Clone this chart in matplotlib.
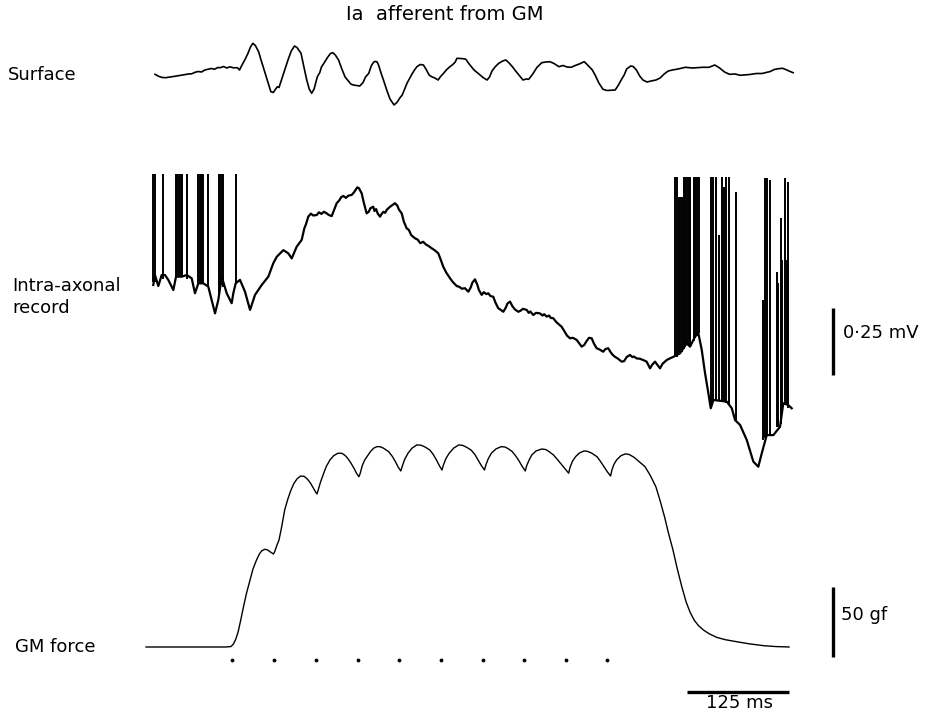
import numpy as np
import matplotlib.pyplot as plt

# ---- data (time in ms from start of sweep) ----
# surface EMG, arbitrary units
surf_t = [11, 16, 20, 24, 30, 36, 45, 52, 56, 60, 64, 68, 72, 76, 80, 84, 88, 91, 95, 99,
          103, 107, 112, 114.6, 117, 121, 125, 128, 131, 134, 138, 141, 146, 150, 153, 156,
          158, 161, 163, 166, 170, 174, 178, 182, 185, 188, 190, 193, 197, 200, 203, 206,
          210, 213, 215, 218, 222, 226, 229, 232, 236, 240, 244, 247, 251, 254, 258, 262,
          266, 269, 273, 276, 278, 280, 283, 285, 288, 291, 295, 299, 304, 308, 311, 314,
          317, 320, 322, 326, 329, 332, 336, 340, 343, 347, 350, 354, 358, 361, 365, 368,
          372, 376, 379, 381, 385, 389, 392, 396, 402, 408, 413, 418, 421, 424, 428, 432,
          437, 441, 445, 449, 453, 457, 462, 466, 469, 474, 479, 485, 490, 495, 500, 506,
          511, 516, 521, 526, 531, 537, 540, 544, 547, 551, 555, 560, 565, 570, 575, 579,
          583, 586, 589, 594, 597, 601, 605, 609, 614, 619, 625, 630, 635, 640, 645, 652,
          661, 670, 682, 690, 697, 703, 709, 715, 722, 728, 733, 740, 748, 755, 759, 765,
          770, 775, 780, 784, 788, 793]
surf_v = [0.7, -1.5, -2.5, -2.7, -2, -1.2, 0, 1, 1.2, 2.7, 3.5, 3, 5, 5.7, 6.5, 5.8, 7.5, 7.3,
          8.5, 7, 8.2, 7.2, 7.3, 5, 9, 15, 21.7, 28, 31.7, 29.5, 23.3, 15, 1.7, -9, -16.7,
          -17.5, -15, -11.7, -12.5, -5, 5, 15, 24, 29, 27.5, 24, 21.7, 10, -5, -14, -18.3,
          -14, -1.7, 2.5, 8, 11.7, 17, 21.5, 22.3, 20, 15, 6, -2, -5, -9, -10, -10.5, -11,
          -7.5, -2, 1.7, 9, 11.7, 13.5, 13.3, 10, 2, -5, -15, -24, -30, -27, -23, -20,
          -14, -8, -5, 1, 5, 8.3, 10.5, 10, 6, 0, -1.7, -3, -5, -1.5, 2, 5,
          8, 10.5, 13, 16.7, 16.5, 16.3, 15.7, 11, 5, 1, -2.5, -5, -2, 4, 8.3, 11.5,
          14, 15, 12, 8.3, 4, 0, -5, -4, -4.3, 1, 7.5, 12.3, 13, 13.3, 11.5, 8.3,
          9.5, 8, 7.7, 9.5, 11, 13.3, 11, 7.5, 5, -1, -8, -14.3, -15.5, -15.2, -15, -10,
          -4, 0, 6, 9, 8.5, 5, -1, -5, -7, -6, -5, -3, 1, 4, 5, 6,
          7.7, 7, 7.7, 7.7, 10, 7, 3, 0.7, 1, -0.3, 0, 0.5, 1.5, 1.5, 2.3, 3.5,
          5.5, 6.3, 6.7, 5.5, 4, 2.3]

# intra-axonal membrane potential, mV (relative)
intra_t = [8.9, 11.0, 15.1, 19.2, 23.3, 27.3, 33.5, 36.8, 43.8, 49.9, 56.0, 60.0, 64.1,
           70.2, 76.3, 80.5, 84.6, 88.6, 92.8, 98.9, 105.0, 107.0, 109.9, 115.2, 121.3,
           127.5, 133.6, 141.8, 149.9, 156.0, 160.2, 168.3, 174.4, 178.6, 184.7,
           190.8, 194, 196, 198.9, 202, 205, 209.2, 212, 215, 218, 221.5, 224, 227.6, 230,
           233.7, 237, 239, 241.8, 245, 248, 252.1, 255, 258.9, 261, 264.3, 267, 270.4,
           273, 275, 278.5, 280, 282, 284, 286.8, 289, 291, 293, 295, 298, 301, 305.1,
           308, 310, 313.4, 316, 319.5, 322, 325, 329.7, 333, 336, 339.8, 343, 346, 350.1,
           354, 358.2, 361, 364.3, 368, 372.6, 376, 380.8, 384, 387, 390.9, 393, 395, 398,
           400, 403.2, 406, 408, 411.4, 414, 417, 419.5, 422, 425.6, 428, 431.7, 434,
           437.9, 441, 443, 446.1, 449, 452, 456.3, 459, 462, 466.5, 469, 471, 474.6, 478,
           482.8, 486, 488, 491.0, 494, 496, 499.1, 503, 506, 509.4, 513, 516, 519.6, 523,
           527.8, 530, 533.9, 537, 540, 543, 546.2, 549, 552.3, 556, 560.3, 563, 566.5,
           569, 572, 574.7, 578, 582.9, 586, 589, 593.1, 596, 598, 601.3, 605, 609.4,
           613.5, 617.7, 620, 623.8, 627, 629.9, 633, 638.1, 642, 646.3,
           654.4, 662.6, 666.7, 672.8, 676.9, 681.1, 685.1, 689.2, 692.1,
           695.3, 711.7, 717.9, 721.9, 728.0, 736.2, 744.3, 750.4, 754.6, 760.7, 768.8,
           777.0, 781.0, 787.1, 791.3]
intra_mv = [0.679, 0.716, 0.675, 0.716, 0.716, 0.698, 0.660, 0.710, 0.710, 0.716, 0.704,
            0.648, 0.685, 0.685, 0.673, 0.623, 0.573, 0.623, 0.710, 0.648, 0.611, 0.648,
            0.685, 0.698, 0.654, 0.586, 0.642, 0.679, 0.710, 0.760, 0.784, 0.809, 0.797,
            0.778, 0.822,
            0.847, 0.89, 0.905, 0.934, 0.945, 0.938, 0.940, 0.95, 0.944, 0.952, 0.946,
            0.94, 0.936, 0.955, 0.984, 0.995, 1.006, 1.011, 1.004, 1.012, 1.015, 1.025,
            1.043, 1.04, 1.021, 0.985, 0.946, 0.952, 0.965, 0.971, 0.955, 0.962, 0.945,
            0.934, 0.945, 0.952, 0.948, 0.959, 0.968, 0.975, 0.984, 0.975, 0.96, 0.946,
            0.915, 0.890, 0.885, 0.865, 0.853, 0.848, 0.835, 0.840, 0.83, 0.825, 0.816,
            0.808, 0.797, 0.775, 0.747, 0.725, 0.704, 0.69, 0.675, 0.672, 0.665, 0.667,
            0.66, 0.654, 0.67, 0.688, 0.700, 0.68, 0.66, 0.642, 0.652, 0.645, 0.648,
            0.638, 0.635, 0.615, 0.592, 0.588, 0.579, 0.595, 0.61, 0.617, 0.6, 0.588,
            0.579, 0.583, 0.59, 0.586, 0.575, 0.58, 0.567, 0.575, 0.573, 0.565, 0.57,
            0.561, 0.565, 0.556, 0.555, 0.54, 0.532, 0.523, 0.505, 0.49, 0.480, 0.482,
            0.474, 0.465, 0.449, 0.455, 0.47, 0.482, 0.480, 0.46, 0.443, 0.438, 0.430,
            0.44, 0.443, 0.43, 0.418, 0.411, 0.405, 0.393, 0.395, 0.41, 0.418, 0.41,
            0.412, 0.405, 0.404, 0.399, 0.393, 0.368, 0.38, 0.393, 0.38, 0.368, 0.385,
            0.399, 0.405, 0.411,
            0.424, 0.461, 0.449, 0.486, 0.499, 0.436, 0.350, 0.275, 0.219,
            0.250, 0.244, 0.219, 0.175, 0.157, 0.101, 0.020, 0.001, 0.051, 0.119, 0.119,
            0.150, 0.238, 0.231, 0.219]

# action potentials (clipped at the top of the record)
spike_t = [9.1, 11.6, 20.5, 36.8, 38.6, 40.4, 42.3, 44.1, 49.9, 64.1, 65.6, 67.4, 69.2,
           70.2, 76.3, 89.8, 91.2, 93.1, 94.7, 109.9,
           648.7, 650.8, 652.8, 654.9, 656.9, 658.9, 661.0, 663.0, 665.1, 667.1, 671.2,
           673.3, 675.3, 677.3,
           692.1, 694.9, 698.9, 702.2, 705.5, 708.4, 711.2, 714.5, 722.7,
           755.7, 758.5, 760.6, 764.6, 772.9, 774.9, 777.9, 779.8, 783.1, 785.2, 787.1]
spike_lo = [0.69, 0.69, 0.70, 0.71, 0.71, 0.71, 0.71, 0.71, 0.70, 0.685, 0.685, 0.685,
            0.685, 0.685, 0.67, 0.64, 0.66, 0.68, 0.67, 0.685,
            0.41, 0.41, 0.42, 0.42, 0.43, 0.44, 0.45, 0.46, 0.45, 0.45, 0.47,
            0.48, 0.49, 0.50,
            0.22, 0.25, 0.25, 0.25, 0.25, 0.245, 0.24, 0.23, 0.175,
            0.10, 0.11, 0.12, 0.12, 0.15, 0.15, 0.16, 0.20, 0.23, 0.23, 0.22]
spike_hi = [1.093] * 20 + \
           [1.083, 1.083, 1.008, 1.008, 1.008, 1.083, 1.083, 1.083, 1.083, 1.083, 1.083,
            1.083, 1.083, 1.083,
            1.083, 1.083, 1.083, 0.865, 1.083, 1.045, 1.083, 1.083, 1.027,
            0.623, 1.078, 1.078, 1.070, 0.728, 0.686, 0.929, 0.772, 1.078, 0.772, 1.064]

# GM force, gf
force_t = [0, 98, 104, 107, 110, 113, 116, 119.5, 123, 127.5, 131, 135.4, 139, 142, 145.8,
           149, 152, 156.3, 158, 160, 163, 166, 170, 174, 177.7, 181, 185, 189.5, 194, 198,
           201.7, 205, 208, 209.6, 211, 214, 217.8, 221, 225.5, 230, 235.3, 240, 244,
           247.1, 251, 255, 258, 261, 262.5, 265, 268, 270.8, 275, 279, 283.1, 287, 291,
           297.3, 302, 306, 309, 312.3, 314, 317, 321.1, 326, 331.9, 337, 342, 347.8, 352,
           356, 359.5, 362.7, 364.5, 367.5, 371.6, 377, 383.3, 388, 393, 398.3, 403, 407,
           411, 414.8, 416.5, 419.5, 423.3, 429, 435.5, 440, 444, 448.9, 453, 457, 461,
           464.8, 466.5, 469.5, 472.8, 478, 485, 490, 494, 499.4, 504, 509, 514, 518,
           519.5, 522.5, 526.4, 531, 536.8, 541, 546, 552.7, 557, 561, 565.5, 569.3, 571,
           573.5, 576.8, 582, 587.5, 592, 598, 604, 611.5, 618, 624.8, 630, 635.4, 640,
           645.8, 651, 656.6, 662, 667, 672, 677, 683.2, 690, 699.2, 710, 725.5, 740,
           757.4, 772, 788]
force_gf = [0, 0, 0.3, 2, 5.5, 11, 19, 28.8, 38, 47.9, 55.5, 62.1, 66.5, 68.8, 69.8,
            69.3, 68, 66.4, 68.5, 72, 76.4, 85, 97.9, 106, 112.1, 116.5, 120, 122.1, 121.8,
            119.8, 116.9, 113.5, 110.5, 109.3, 112, 118, 124.1, 129, 133.6, 136.6, 138.4,
            138.3, 136.8, 134.8, 131.5, 127.5, 124, 121.6, 124, 129.5, 133.5, 135.9, 139.5,
            142, 143.1, 143, 142, 139.5, 136, 132, 128.5, 125.7, 129, 134, 138.4, 142,
            144.3, 144.1, 142.8, 140.7, 137.5, 133.5, 129.5, 126.4, 130, 134.5, 138.4, 142,
            144.3, 144, 142.6, 140.7, 137.5, 133.5, 129.5, 126.4, 130, 134.5, 138.4, 141.5,
            143.1, 142.8, 141.6, 139.5, 136.5, 133, 129, 125.7, 129.5, 133.5, 137.1, 140,
            141.4, 141, 139.5, 137.1, 134, 130.5, 127, 124.1, 128, 132.5, 135.9, 138.5,
            140, 139.7, 138.5, 135.9, 132.5, 129, 125, 122.1, 126.5, 130.5, 133.6, 136.6,
            137.9, 137.5, 135.5, 132.5, 128.8, 122.5, 114.5, 104.5, 93.1, 82, 69.3, 56,
            43.1, 32, 24.5, 19, 15.3, 12.1, 9.5, 6.9, 5.2, 3.6, 2.2, 0.9, 0.3, 0]

stim_t = [105.0, 157.1, 208.2, 259.3, 309.8, 362.0, 413.6, 463.6, 514.8, 565.3]

# ---- layout ----
W, H = 925, 715
ms_per_px = 125 / 102
fig = plt.figure(figsize=(W / 100, H / 100), dpi=100)
xlim = (-146 * ms_per_px, (W - 146) * ms_per_px)


def panel(top, bottom, ylim):
    ax = fig.add_axes([0, 1 - bottom / H, 1, (bottom - top) / H])
    ax.set_xlim(xlim)
    ax.set_ylim(ylim)
    ax.axis('off')
    ax.patch.set_alpha(0)
    return ax


ax_s = panel(30, 115, (-40, 45))
ax_i = panel(165, 480, (-0.0485, 1.1265))
ax_f = panel(420, 715, (-48.57, 162.1))

ax_s.plot(surf_t, surf_v, color='k', lw=1.2)

ax_i.plot(intra_t, intra_mv, color='k', lw=1.6)
ax_i.vlines(spike_t, spike_lo, spike_hi, color='k', lw=1.4)
ax_i.plot([842, 842], [0.343, 0.593], color='k', lw=2.4, solid_capstyle='butt')

ax_f.plot(force_t, force_gf, color='k', lw=1.0)
ax_f.plot(stim_t, [-9.3] * len(stim_t), 'k.', ms=3.5)
ax_f.plot([842, 842], [-7.1, 42.9], color='k', lw=2.4, solid_capstyle='butt')
ax_f.plot([663, 788], [-32, -32], color='k', lw=2.4, solid_capstyle='butt')

fs = 13
fig.text(445 / W, 1 - 14 / H, 'Ia  afferent from GM', ha='center', va='center', fontsize=14)
fig.text(8 / W, 1 - 75 / H, 'Surface', ha='left', va='center', fontsize=fs)
fig.text(12 / W, 1 - 297 / H, 'Intra-axonal\nrecord', ha='left', va='center',
         fontsize=fs, linespacing=1.25)
fig.text(15 / W, 1 - 647 / H, 'GM force', ha='left', va='center', fontsize=fs)
fig.text(843 / W, 1 - 333 / H, '0\u00b725 mV', ha='left', va='center', fontsize=fs)
fig.text(841 / W, 1 - 615 / H, '50 gf', ha='left', va='center', fontsize=fs)
fig.text(739 / W, 1 - 703 / H, '125 ms', ha='center', va='center', fontsize=fs)

fig.savefig('out.png', dpi=100)
